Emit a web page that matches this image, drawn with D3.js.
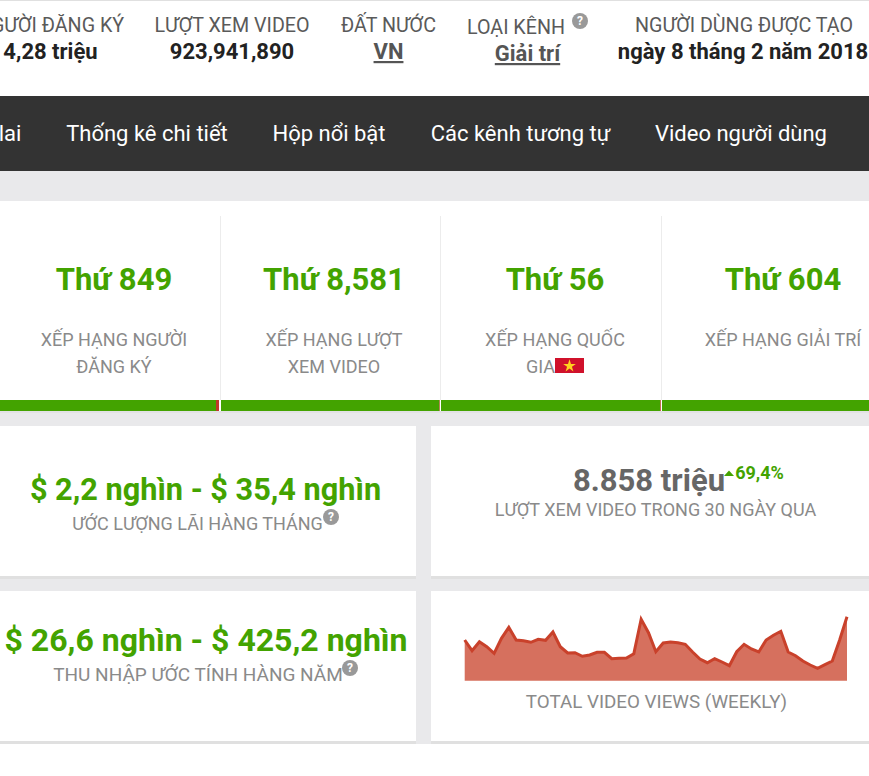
<!DOCTYPE html>
<head>
  <meta charset="utf-8">
  <title>Thống kê kênh</title>
  <script src="https://d3js.org/d3.v7.min.js"></script>
  <style>
    html, body { margin: 0; padding: 0; background: #fff; overflow: hidden; }
    svg { display: block; font-family: Roboto, sans-serif; }
  </style>
</head>
<body>
<svg width="869" height="776"></svg>

<script type="text/javascript">

// header strip
var headerLabels = ["NGƯỜI ĐĂNG KÝ", "LƯỢT XEM VIDEO", "ĐẤT NƯỚC", "LOẠI KÊNH", "NGƯỜI DÙNG ĐƯỢC TẠO"];
var headerValues = ["4,28 triệu", "923,941,890", "VN", "Giải trí", "ngày 8 tháng 2 năm 2018"];

var navItems = ["Dự đoán tương lai", "Thống kê chi tiết", "Hộp nổi bật", "Các kênh tương tự", "Video người dùng"];

var rankValues = ["Thứ 849", "Thứ 8,581", "Thứ 56", "Thứ 604"];
var rankLine1 = ["XẾP HẠNG NGƯỜI", "XẾP HẠNG LƯỢT", "XẾP HẠNG QUỐC", "XẾP HẠNG GIẢI TRÍ"];
var rankLine2 = ["ĐĂNG KÝ", "XEM VIDEO", "GIA", ""];

// relative height of each weekly point, read off the sparkline (no axis in the picture)
var weeklyViews = [40.7, 30, 39, 34, 27.4, 42.4, 53.4, 40.7, 40, 38.4, 41.4, 40.4, 48.7, 34, 27.7, 28, 24.4, 25.7,
  28.4, 28.4, 22, 22.4, 22.7, 27, 61.4, 48, 29, 37.7, 38.7, 38, 36.4, 28.7, 21.7, 18, 22, 18.7, 15, 29, 36.4, 31.7,
  28.7, 40.7, 45.4, 49.4, 28.7, 25, 19.7, 15.7, 12.4, 16, 19.7, 40.7, 64];

var green = "#43a300", grey = "#8a8a8a", bg = "#e9e9eb";
var svg = d3.select("svg");

function box(x, y, w, h, fill) {
  return svg.append("rect").attr("x", x).attr("y", y).attr("width", w).attr("height", h).style("fill", fill);
}

function label(txt, x, y, size, fill, weight) {
  return svg.append("text").attr("x", x).attr("y", y).attr("text-anchor", "middle")
    .style("font-size", size + "px").style("fill", fill).style("font-weight", weight || 400).text(txt);
}

function help(x, y) {
  svg.append("circle").attr("cx", x).attr("cy", y).attr("r", 8).style("fill", "#999");
  label("?", x, y + 4, 12, "#fff", 700);
}

// page background and main bands
box(0, 0, 869, 776, "#fff");
box(0, 0, 869, 1, "#e0e0e0");
box(0, 96, 869, 75, "#333");
box(0, 171, 869, 573, bg);

// header
var headerX = [50.5, 232, 388.5, 516, 744];
var headerValueX = [50.5, 232, 388.5, 527.5, 743];
headerLabels.forEach(function(d, i) {
  label(d, headerX[i], i == 3 ? 34 : 32, 19.7, "#5a5a5a");
});
headerValues.forEach(function(d, i) {
  var t = label(d, headerValueX[i], i == 3 ? 61 : 59, 22, i == 2 || i == 3 ? "#555" : "#222", 700);
  if (i == 2 || i == 3) t.style("text-decoration", "underline");
});
help(580, 21);

// nav
var navX = [-66, 147, 329, 520.5, 741];
navItems.forEach(function(d, i) {
  label(d, navX[i], 141, 22, "#fff", 400);
});

// rank cards
var cardX = [0, 221, 441, 662];
var greenEnd = [216, 439.5, 660.3, 869];
var redEnd = [219, 440, 661, 869];
var cardMid = [114, 334, 555, 783];
box(0, 201, 869, 210, "#fff");
box(0, 411, 869, 2, "#e2e2e4");
cardX.forEach(function(d, i) {
  if (i > 0) box(d - 1, 216, 1, 184, "#ececec");
  box(d, 400, greenEnd[i] - d, 11, green);
  box(greenEnd[i], 400, redEnd[i] - greenEnd[i], 11, "#c0392b");
});
rankValues.forEach(function(d, i) {
  label(d, cardMid[i], 290, 31, green, 700);
});
rankLine1.forEach(function(d, i) {
  label(d, cardMid[i], 346, 18, grey);
});
rankLine2.forEach(function(d, i) {
  label(d, i == 2 ? 540.5 : cardMid[i], 373, 18, grey);
});

// flag next to the country rank
box(555, 358, 29, 15, "#d0112b");
svg.append("path").attr("d", d3.symbol(d3.symbolStar, 50)).attr("transform", "translate(569.5,366)").style("fill", "#ffd21f");

// lower panels
[426, 591].forEach(function(y) {
  box(0, y, 416, 150, "#fff");
  box(431, y, 438, 150, "#fff");
  box(0, y + 150, 416, 3, "#e0e0e0");
  box(431, y + 150, 438, 3, "#e0e0e0");
});

label("$ 2,2 nghìn - $ 35,4 nghìn", 205.5, 500, 30.7, green, 700);
label("ƯỚC LƯỢNG LÃI HÀNG THÁNG", 197.5, 530, 18, grey);
help(331, 517);

label("$ 26,6 nghìn - $ 425,2 nghìn", 206, 651, 32, green, 700);
label("THU NHẬP ƯỚC TÍNH HÀNG NĂM", 198, 681, 19, grey);
help(350, 668);

label("8.858 triệu", 649, 491, 31, "#666", 700);
label("69,4%", 759.5, 479, 18, green, 700);
svg.append("path").attr("d", "M724 476l5 -5.5l5 5.5z").style("fill", green);
label("LƯỢT XEM VIDEO TRONG 30 NGÀY QUA", 655.5, 516, 18, grey);
label("TOTAL VIDEO VIEWS (WEEKLY)", 656.5, 708, 18.8, grey);

// sparkline
var x = d3.scalePoint().domain(d3.range(weeklyViews.length)).range([464.7, 847]);
var y = d3.scaleLinear().domain([0, 64]).range([680.7, 616.7]);

var area = d3.area().x(function(d, i) { return x(i); }).y0(y(0)).y1(function(d) { return y(d); });
var line = d3.line().x(function(d, i) { return x(i); }).y(function(d) { return y(d); });

svg.append("path").datum(weeklyViews).attr("d", area).style("fill", "#d6705e");
svg.append("path").datum(weeklyViews).attr("d", line)
  .style("fill", "none").style("stroke", "#c9412b").style("stroke-width", 3);

</script>
</body>
</html>
